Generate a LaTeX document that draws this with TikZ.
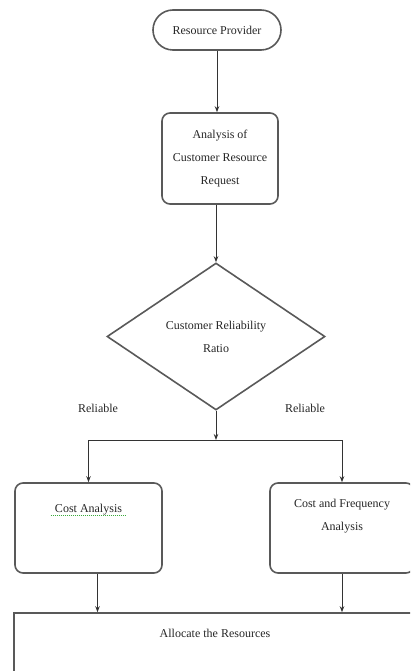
\documentclass[tikz,border=0pt]{standalone}
\usepackage{fontspec}
\setmainfont{Liberation Serif}
\usetikzlibrary{shapes.geometric, arrows.meta}
\definecolor{spellgreen}{RGB}{60,170,60}
\newcommand{\toplines}[1]{\begin{tabular}[t]{@{}c@{}}#1\end{tabular}}
\tikzset{
    > = {Stealth[length = 6pt, width = 4.5pt]},
    flow/.style = {->, line width = 1pt, draw = black!80},
    terminal/.style = {draw = black!65, line width = 1.6pt, rounded corners = 20pt,
        minimum width = 128pt, minimum height = 40pt, inner sep = 0pt},
    process/.style = {draw = black!65, line width = 1.6pt, rounded corners = 8pt,
        inner sep = 0pt, align = center},
    decision/.style = {draw = black!65, line width = 1.6pt, diamond, aspect = 1.5,
        minimum width = 218pt, minimum height = 147pt, inner sep = 2pt, align = center},
    plain/.style = {inner sep = 1pt}
}

\begin{document}
\begin{tikzpicture}[x = 1pt, y = -1pt, font = \fontsize{12}{23}\selectfont, text = black!85]
    \useasboundingbox (0, 0) rectangle (410, 671);
    \clip (0, 0) rectangle (410, 671);

    \node[terminal] (prov) at (217, 30) {Resource Provider};
    \node[process, minimum width = 116pt, minimum height = 91pt] (req) at (220, 158.5)
        {Analysis of\\Customer Resource\\Request};
    \node[decision] (ratio) at (216, 336.5) {Customer Reliability\\Ratio};
    \coordinate (split) at (216, 440);

    \node[plain] (rel1) at (98, 408) {Reliable};
    \node[plain] (rel2) at (305, 408) {Reliable};

    \node[process, minimum width = 147pt, text height = 29pt, text depth = 61pt] (cost) at (88.5, 528)
        {Cost Analysis};
    \node[process, minimum width = 144pt, text height = 24pt, text depth = 66pt] (freq) at (342, 528)
        {\toplines{Cost and Frequency\\Analysis}};
    \node[process, rounded corners = 0pt, minimum width = 402pt, text height = 24pt, text depth = 63pt] (alloc) at (215, 656.5)
        {Allocate the Resources};

    % spell check mark under the left box title
    \draw[spellgreen, densely dotted, line width = 1pt]
        ([xshift = -38pt, yshift = -33pt]cost.north) -- ++(76, 0);

    \draw[flow] (prov.south) -- (prov.south |- req.north);
    \draw[flow] (ratio.north |- req.south) -- (ratio.north);
    \draw[flow] (ratio.south) -- (split);
    \draw[flow] (split) -| (cost.north);
    \draw[flow] (split) -| (freq.north);
    \draw[flow] ([xshift = 9pt]cost.south) -- ([xshift = 9pt]cost.south |- alloc.north);
    \draw[flow] (freq.south) -- (freq.south |- alloc.north);
\end{tikzpicture}
\end{document}
